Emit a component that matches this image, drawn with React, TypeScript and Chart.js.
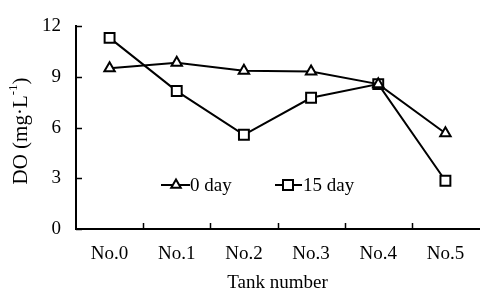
import React, { useEffect, useRef } from "react";
import { Chart, registerables } from "chart.js";

Chart.register(...registerables);

const categories = ["No.0", "No.1", "No.2", "No.3", "No.4", "No.5"];
const day0 = [9.52, 9.84, 9.37, 9.33, 8.58, 5.67];
const day15 = [11.32, 8.17, 5.58, 7.77, 8.58, 2.86];
const yTicks = [0, 3, 6, 9, 12];
const seriesNames = ["0 day", "15 day"];
const xTitle = "Tank number";
const yTitleMain = "DO (mg·L";
const yTitleSup = "-1";
const yTitleEnd = ")";

const FONT = "'Liberation Serif', 'Times New Roman', serif";
const FS = 19;

function drawMarker(ctx: CanvasRenderingContext2D, style: string, x: number, y: number) {
  ctx.save();
  ctx.beginPath();
  if (style === "triangle") {
    const r = 5.5;
    ctx.moveTo(x, y - r);
    ctx.lineTo(x + r * Math.sin((2 * Math.PI) / 3), y - r * Math.cos((2 * Math.PI) / 3));
    ctx.lineTo(x + r * Math.sin((4 * Math.PI) / 3), y - r * Math.cos((4 * Math.PI) / 3));
    ctx.closePath();
  } else {
    const s = 5;
    ctx.rect(x - s, y - s, 2 * s, 2 * s);
  }
  ctx.fillStyle = "#fff";
  ctx.fill();
  ctx.lineWidth = 2;
  ctx.strokeStyle = "#000";
  ctx.stroke();
  ctx.restore();
}

const decorPlugin = {
  id: "decor",
  afterDraw(chart: any) {
    const ctx: CanvasRenderingContext2D = chart.ctx;
    const xs = chart.scales.x;
    const ys = chart.scales.y;
    const area = chart.chartArea;
    ctx.save();
    ctx.strokeStyle = "#000";
    ctx.lineWidth = 1.5;
    // inward y ticks
    yTicks.forEach((v) => {
      const py = Math.round(ys.getPixelForValue(v)) + 0.5;
      ctx.beginPath();
      ctx.moveTo(area.left, py);
      ctx.lineTo(area.left + 6, py);
      ctx.stroke();
    });
    // inward x ticks at category boundaries
    for (let i = 0; i < categories.length - 1; i++) {
      const px = Math.round((xs.getPixelForValue(i) + xs.getPixelForValue(i + 1)) / 2) + 0.5;
      ctx.beginPath();
      ctx.moveTo(px, area.bottom);
      ctx.lineTo(px, area.bottom - 6);
      ctx.stroke();
    }
    // legend
    const ly = 185;
    const items = [
      { name: seriesNames[0], style: "triangle", x0: 161, x1: 190, mx: 176, tx: 190 },
      { name: seriesNames[1], style: "rect", x0: 275, x1: 302, mx: 288, tx: 303 },
    ];
    items.forEach((it) => {
      ctx.beginPath();
      ctx.lineWidth = 2;
      ctx.moveTo(it.x0, ly);
      ctx.lineTo(it.x1, ly);
      ctx.stroke();
      drawMarker(ctx, it.style, it.mx, ly);
      ctx.fillStyle = "#000";
      ctx.font = `${FS}px ${FONT}`;
      ctx.textBaseline = "middle";
      ctx.textAlign = "left";
      ctx.fillText(it.name, it.tx, ly + 1);
    });
    // y title
    ctx.translate(21, 131);
    ctx.rotate(-Math.PI / 2);
    ctx.fillStyle = "#000";
    ctx.textBaseline = "middle";
    ctx.textAlign = "left";
    const TS = 21;
    ctx.font = `${TS}px ${FONT}`;
    const w1 = ctx.measureText(yTitleMain).width;
    const w3 = ctx.measureText(yTitleEnd).width;
    ctx.font = `13px ${FONT}`;
    const w2 = ctx.measureText(yTitleSup).width;
    const start = -(w1 + w2 + w3) / 2;
    ctx.font = `${TS}px ${FONT}`;
    ctx.fillText(yTitleMain, start, 0);
    ctx.font = `13px ${FONT}`;
    ctx.fillText(yTitleSup, start + w1, -7);
    ctx.font = `${TS}px ${FONT}`;
    ctx.fillText(yTitleEnd, start + w1 + w2, 0);
    ctx.restore();
  },
};

export default function App() {
  const ref = useRef<HTMLCanvasElement>(null);
  useEffect(() => {
    if (!ref.current) return;
    const chart = new Chart(ref.current, {
      type: "line",
      data: {
        labels: categories,
        datasets: [
          {
            label: seriesNames[0],
            data: day0,
            borderColor: "#000",
            borderWidth: 2,
            pointStyle: "triangle",
            pointRadius: 6,
            pointBackgroundColor: "#fff",
            pointBorderColor: "#000",
            pointBorderWidth: 2,
            tension: 0,
          },
          {
            label: seriesNames[1],
            data: day15,
            borderColor: "#000",
            borderWidth: 2,
            pointStyle: "rect",
            pointRadius: 7,
            pointBackgroundColor: "#fff",
            pointBorderColor: "#000",
            pointBorderWidth: 2,
            tension: 0,
          },
        ],
      },
      options: {
        responsive: false,
        animation: false,
        devicePixelRatio: 1,
        layout: { padding: { left: 0, right: 2, top: 16, bottom: 0 } },
        plugins: { legend: { display: false }, tooltip: { enabled: false } },
        scales: {
          x: {
            type: "category",
            offset: true,
            grid: { display: false, drawTicks: false },
            border: { display: true, color: "#000", width: 2 },
            ticks: { color: "#000", font: { family: FONT, size: FS }, padding: 14, maxRotation: 0 },
            title: {
              display: true,
              text: xTitle,
              color: "#000",
              font: { family: FONT, size: FS, lineHeight: 1 },
              padding: { top: 0, bottom: 0 },
            },
            afterFit: (s: any) => {
              s.height = 64;
            },
          },
          y: {
            min: 0,
            max: 12,
            grid: { display: false, drawTicks: false },
            border: { display: true, color: "#000", width: 2 },
            afterBuildTicks: (s: any) => {
              s.ticks = yTicks.map((v) => ({ value: v }));
            },
            ticks: { color: "#000", font: { family: FONT, size: FS }, padding: 15 },
            afterFit: (s: any) => {
              s.width = 76;
            },
          },
        },
      },
      plugins: [decorPlugin],
    });
    return () => chart.destroy();
  }, []);
  return (
    <div style={{ position: "fixed", left: 0, top: 0, width: 483, height: 293, overflow: "hidden", background: "#fff" }}>
      <canvas ref={ref} width={488} height={293} style={{ width: 488, height: 293, display: "block" }} />
    </div>
  );
}
